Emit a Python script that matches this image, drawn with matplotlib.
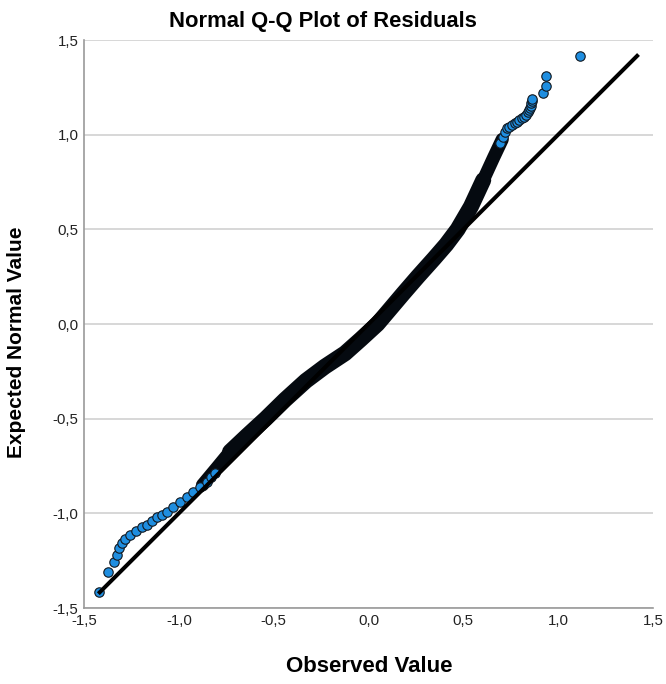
import matplotlib
matplotlib.use("Agg")
import matplotlib.pyplot as plt
from matplotlib.ticker import FuncFormatter

plt.rcParams['font.family'] = ['Liberation Sans', 'DejaVu Sans']

# puntos sueltos de la cola inferior (observado, esperado)
low_obs = [-1.419, -1.375, -1.340, -1.327, -1.314, -1.298, -1.284, -1.257, -1.227,
           -1.196, -1.169, -1.143, -1.117, -1.090, -1.064, -1.029, -0.994, -0.958,
           -0.924, -0.888, -0.853, -0.83, -0.81]
low_exp = [-1.417, -1.308, -1.256, -1.220, -1.185, -1.159, -1.137, -1.115, -1.092,
           -1.074, -1.062, -1.039, -1.021, -1.009, -0.992, -0.965, -0.939, -0.912,
           -0.886, -0.859, -0.833, -0.81, -0.785]

# centro de la banda densa (miles de puntos superpuestos)
band_low_obs = [-0.875, -0.80, -0.73, -0.68]
band_low_exp = [-0.85, -0.76, -0.675, -0.63]
band_obs = [-0.73, -0.64, -0.542, -0.44, -0.33, -0.23, -0.124, -0.04, 0.047,
            0.184, 0.26, 0.345, 0.41, 0.47, 0.54, 0.605]
band_exp = [-0.675, -0.59, -0.50, -0.40, -0.30, -0.225, -0.155, -0.08, 0.0,
            0.162, 0.25, 0.345, 0.42, 0.50, 0.62, 0.76]
band_high_obs = [0.575, 0.605, 0.66, 0.705]
band_high_exp = [0.69, 0.76, 0.88, 0.975]

# cola superior
high_obs = [0.693, 0.711, 0.720, 0.732, 0.74, 0.755, 0.77, 0.781, 0.795, 0.808,
            0.82, 0.830, 0.842, 0.847, 0.851, 0.855, 0.858, 0.86, 0.862, 0.918,
            0.936, 0.936, 1.115]
high_exp = [0.955, 0.989, 1.016, 1.034, 1.043, 1.051, 1.06, 1.069, 1.078, 1.087,
            1.095, 1.104, 1.121, 1.13, 1.139, 1.152, 1.166, 1.176, 1.187, 1.219,
            1.257, 1.31, 1.416]

ticks = [-1.5, -1.0, -0.5, 0.0, 0.5, 1.0, 1.5]

fig = plt.figure(figsize=(6.66, 6.84), dpi=100)
ax = fig.add_axes([0.1261, 0.1111, 0.8544, 0.8304])

ax.set_xlim(-1.5, 1.5)
ax.set_ylim(-1.5, 1.5)
ax.set_xticks(ticks)
ax.set_yticks(ticks)
coma = FuncFormatter(lambda v, p: f"{v:.1f}".replace('.', ','))
ax.xaxis.set_major_formatter(coma)
ax.yaxis.set_major_formatter(coma)
ax.tick_params(length=0, labelsize=10.8, colors='#222222', pad=4)
ax.grid(axis='y', color='#d4d4d4', lw=1.3)
ax.set_axisbelow(True)
for s in ['top', 'right']:
    ax.spines[s].set_visible(False)
for s in ['left', 'bottom']:
    ax.spines[s].set_color('#9a9a9a')
    ax.spines[s].set_linewidth(1.2)

# linea de referencia
todos = low_exp + band_exp + high_exp
lo, hi = min(todos), max(todos)
ax.plot([lo, hi], [lo, hi], color='black', lw=2.9, zorder=4)

negro = '#050a10'
ax.plot(band_obs, band_exp, color=negro, lw=11.5, solid_capstyle='round',
        solid_joinstyle='round', zorder=2)
ax.plot(band_low_obs, band_low_exp, color=negro, lw=9.5, solid_capstyle='round',
        solid_joinstyle='round', zorder=2)
ax.plot(band_high_obs, band_high_exp, color=negro, lw=9.5, solid_capstyle='round',
        solid_joinstyle='round', zorder=2)
ax.scatter(low_obs, low_exp, s=46, c='#1f8ee0', edgecolors='#111820', linewidths=0.8, zorder=3)
ax.scatter(high_obs, high_exp, s=46, c='#1f8ee0', edgecolors='#111820', linewidths=0.8, zorder=3)

fig.text(0.485, 0.968, 'Normal Q-Q Plot of Residuals', ha='center', va='center',
         fontsize=15.8, fontweight='bold')
fig.text(0.554, 0.025, 'Observed Value', ha='center', va='center',
         fontsize=16, fontweight='bold')
fig.text(0.0248, 0.499, 'Expected Normal Value', ha='center', va='center',
         rotation=90, fontsize=15, fontweight='bold')

fig.savefig('out.png', dpi=100)
